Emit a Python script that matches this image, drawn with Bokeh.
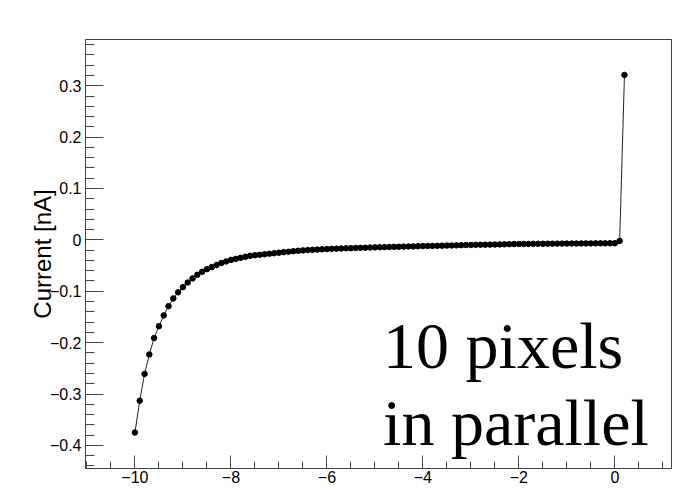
from bokeh.plotting import figure
from bokeh.models import Range1d, SingleIntervalTicker, CustomJSTickFormatter, Label, ColumnDataSource
from bokeh.embed import file_html
from bokeh.resources import INLINE

# Bias voltage [V]
voltage = [
    -10.0, -9.9, -9.8, -9.7, -9.6, -9.5, -9.4, -9.3, -9.2, -9.1,
    -9.0, -8.9, -8.8, -8.7, -8.6, -8.5, -8.4, -8.3, -8.2, -8.1,
    -8.0, -7.9, -7.8, -7.7, -7.6, -7.5, -7.4, -7.3, -7.2, -7.1,
    -7.0, -6.9, -6.8, -6.7, -6.6, -6.5, -6.4, -6.3, -6.2, -6.1,
    -6.0, -5.9, -5.8, -5.7, -5.6, -5.5, -5.4, -5.3, -5.2, -5.1,
    -5.0, -4.9, -4.8, -4.7, -4.6, -4.5, -4.4, -4.3, -4.2, -4.1,
    -4.0, -3.9, -3.8, -3.7, -3.6, -3.5, -3.4, -3.3, -3.2, -3.1,
    -3.0, -2.9, -2.8, -2.7, -2.6, -2.5, -2.4, -2.3, -2.2, -2.1,
    -2.0, -1.9, -1.8, -1.7, -1.6, -1.5, -1.4, -1.3, -1.2, -1.1,
    -1.0, -0.9, -0.8, -0.7, -0.6, -0.5, -0.4, -0.3, -0.2, -0.1,
    0.0, 0.1, 0.2,
]

# Current [nA]
current = [
    -0.375, -0.313, -0.261, -0.223, -0.191, -0.168, -0.147, -0.129, -0.114, -0.102,
    -0.092, -0.083, -0.075, -0.068, -0.062, -0.057, -0.053, -0.049, -0.045, -0.042,
    -0.039, -0.037, -0.035, -0.033, -0.031, -0.030, -0.029, -0.028, -0.027, -0.026,
    -0.025, -0.024, -0.023, -0.022, -0.0212, -0.0205, -0.0199, -0.0194, -0.0189, -0.0184,
    -0.0179, -0.0175, -0.0171, -0.0167, -0.0164, -0.0161, -0.0158, -0.0155, -0.0152, -0.0149,
    -0.0146, -0.0143, -0.0141, -0.0138, -0.0136, -0.0134, -0.0131, -0.0129, -0.0127, -0.0124,
    -0.0121, -0.0119, -0.0118, -0.0116, -0.0113, -0.0111, -0.0109, -0.0107, -0.0104, -0.0101,
    -0.0099, -0.0097, -0.0095, -0.0093, -0.0092, -0.0090, -0.0088, -0.0086, -0.0084, -0.0082,
    -0.0080, -0.0079, -0.0078, -0.0077, -0.0076, -0.0076, -0.0075, -0.0074, -0.0073, -0.0073,
    -0.0072, -0.0071, -0.0071, -0.0070, -0.0069, -0.0069, -0.0068, -0.0068, -0.0067, -0.0066,
    -0.0065, -0.0020, 0.3210,
]

y_title = "Current [nA]"
note_lines = ["10 pixels", "in parallel"]

source = ColumnDataSource(data=dict(v=voltage, i=current))

p = figure(width=674, height=488, output_backend="svg", toolbar_location=None,
           title=None,
           x_range=Range1d(-11.03, 1.18), y_range=Range1d(-0.445, 0.39),
           min_border_left=85, min_border_right=3, min_border_top=39,
           min_border_bottom=20)
p.grid.visible = False
p.background_fill_color = "white"
p.border_fill_color = "white"
p.outline_line_color = "#444444"
p.outline_line_width = 1

axis_color = "#444444"
minus_fmt = """
const v = Math.round(tick * 10) / 10;
if (v === 0) { return '0'; }
return (v < 0 ? '\\u2212' : '') + Math.abs(v).toString();
"""

xa = p.xaxis[0]
xa.ticker = SingleIntervalTicker(interval=2, num_minor_ticks=4)
xa.formatter = CustomJSTickFormatter(code=minus_fmt)
xa.major_tick_in = 13
xa.major_tick_out = 0
xa.minor_tick_in = 7
xa.minor_tick_out = 0
xa.axis_line_color = axis_color
xa.major_tick_line_color = axis_color
xa.minor_tick_line_color = axis_color
xa.major_label_standoff = 2
xa.major_label_text_font = "Liberation Sans"
xa.major_label_text_font_size = "16px"
xa.major_label_text_color = "black"

ya = p.yaxis[0]
ya.ticker = SingleIntervalTicker(interval=0.1, num_minor_ticks=5)
ya.formatter = CustomJSTickFormatter(code=minus_fmt)
ya.major_tick_in = 18
ya.major_tick_out = 0
ya.minor_tick_in = 9
ya.minor_tick_out = 0
ya.axis_line_color = axis_color
ya.major_tick_line_color = axis_color
ya.minor_tick_line_color = axis_color
ya.major_label_standoff = 4
ya.major_label_text_font = "Liberation Sans"
ya.major_label_text_font_size = "16px"
ya.major_label_text_color = "black"
ya.axis_label = y_title
ya.axis_label_text_font = "Liberation Sans"
ya.axis_label_text_font_size = "24px"
ya.axis_label_text_font_style = "normal"
ya.axis_label_text_color = "black"
ya.axis_label_standoff = -9

p.line("v", "i", source=source, line_color="#222222", line_width=1)
p.scatter("v", "i", source=source, size=5.5, fill_color="black", line_color="black")

p.add_layout(Label(x=-4.83, y=-0.2056, text=note_lines[0], text_font="Liberation Serif",
                   text_font_size="66px", text_color="black", text_baseline="alphabetic"))
p.add_layout(Label(x=-4.83, y=-0.355, text=note_lines[1], text_font="Liberation Serif",
                   text_font_size="66px", text_color="black", text_baseline="alphabetic"))

open("out.html", "w").write(file_html(p, INLINE))
